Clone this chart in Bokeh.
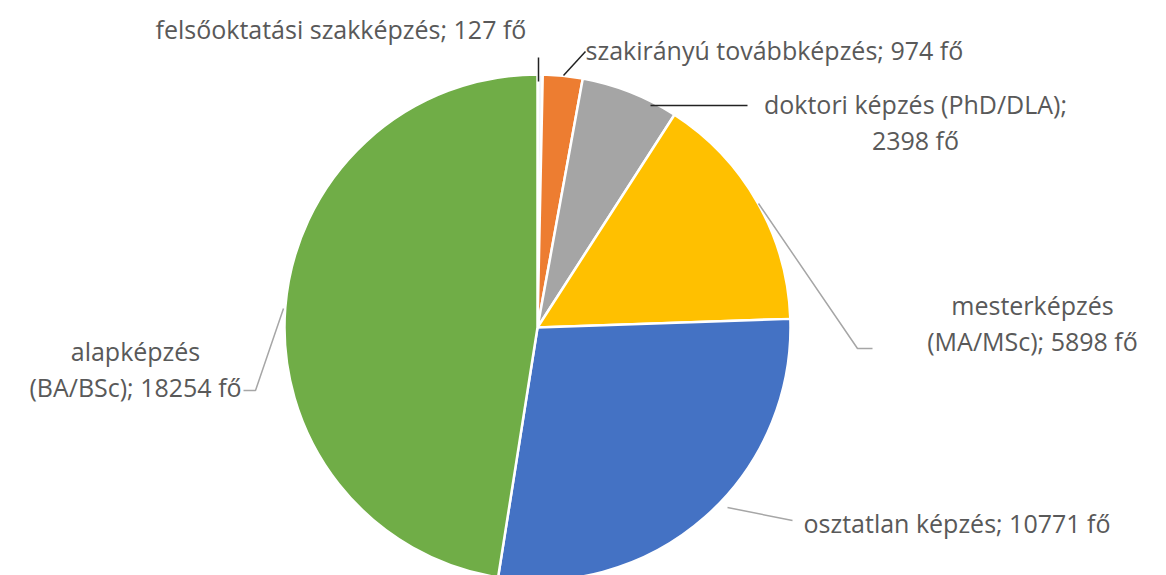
import math
from bokeh.plotting import figure
from bokeh.models import Range1d, ColumnDataSource
from bokeh.core.properties import value
from bokeh.embed import file_html
from bokeh.resources import INLINE

# ---- data ----
categories = ["felsőoktatási szakképzés", "szakirányú továbbképzés",
              "doktori képzés (PhD/DLA)", "mesterképzés (MA/MSc)",
              "osztatlan képzés", "alapképzés (BA/BSc)"]
values = [127, 974, 2398, 5898, 10771, 18254]
colors = ["#f2f5fb", "#ED7D31", "#A5A5A5", "#FFC000", "#4472C4", "#70AD47"]
label_lines = [
    ["felsőoktatási szakképzés; 127 fő"],
    ["szakirányú továbbképzés; 974 fő"],
    ["doktori képzés (PhD/DLA);", "2398 fő"],
    ["mesterképzés", "(MA/MSc); 5898 fő"],
    ["osztatlan képzés; 10771 fő"],
    ["alapképzés", "(BA/BSc); 18254 fő"],
]

W, H = 1166, 575
CX, CY, R = 537, 327, 253


def Y(py):
    return H - py


total = sum(values)
starts, ends = [], []
cum = 0
for v in values:
    starts.append(math.pi / 2 - 2 * math.pi * cum / total)
    cum += v
    ends.append(math.pi / 2 - 2 * math.pi * cum / total)

p = figure(width=W, height=H, x_range=Range1d(0, W), y_range=Range1d(0, H),
           output_backend="svg", toolbar_location=None,
           x_axis_location=None, y_axis_location=None, min_border=0,
           background_fill_color="white", border_fill_color="white")
p.outline_line_color = None
p.grid.visible = False

src = ColumnDataSource(dict(x=[CX] * len(values), y=[Y(CY)] * len(values),
                            start=starts, end=ends, color=colors, cat=categories,
                            val=values))
p.wedge(x="x", y="y", radius=R, start_angle="start", end_angle="end",
        direction="clock", fill_color="color", line_color="white",
        line_width=2.5, source=src)

# ---- leader lines (layout) ----
leaders = [
    ([538, 538], [81, 57], "#222222"),
    ([563, 585], [75, 51], "#222222"),
    ([650, 747], [105, 105], "#222222"),
    ([758, 857, 872], [203, 348, 348], "#a6a6a6"),
    ([727, 792], [507, 520], "#a6a6a6"),
    ([283, 255, 243], [308, 390, 390], "#a6a6a6"),
]
for xs, ys, c in leaders:
    p.line(xs, [Y(v) for v in ys], line_color=c, line_width=1.5)

# ---- labels (layout) ----
label_pos = [
    (155, 28, "left"),
    (585, 49, "left"),
    (915, 103, "center"),
    (1032, 304, "center"),
    (803, 522, "left"),
    (135, 350, "center"),
]
LINE_H = 36
for lines, (lx, ly, al) in zip(label_lines, label_pos):
    xs = [lx] * len(lines)
    ys = [Y(ly + i * LINE_H) for i in range(len(lines))]
    p.text(x=xs, y=ys, text=lines, text_font=value("Open Sans"),
           text_font_size="25px", text_color="#595959",
           text_align=al, text_baseline="middle")

open("out.html", "w").write(file_html(p, INLINE))
